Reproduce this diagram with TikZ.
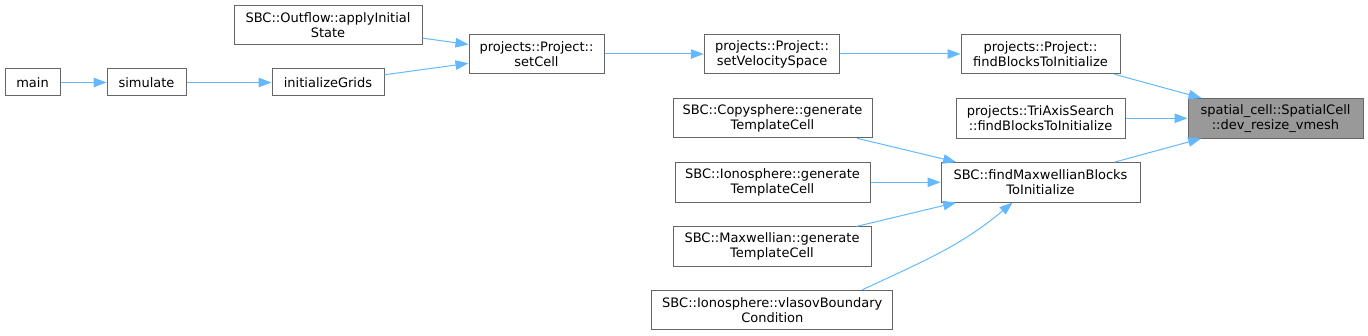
\documentclass[tikz,border=0pt]{standalone}
\usepackage{fontspec}
\setmainfont{DejaVu Sans}
\usetikzlibrary{arrows.meta}
\definecolor{edgeblue}{HTML}{63B8FF}
\definecolor{boxgray}{HTML}{666666}
\definecolor{fillgray}{HTML}{999999}
\tikzset{
  box/.style={draw=boxgray, line width=1pt, fill=white, inner sep=0pt, align=center,
    font=\fontsize{13}{15}\selectfont, text=black},
  one/.style={box, minimum height=27pt},
  two/.style={box, minimum height=39.5pt},
  edge/.style={draw=edgeblue, line width=1pt, -{Triangle[length=13pt,width=9.5pt]}},
}
\begin{document}
\begin{tikzpicture}[x=1pt,y=-1pt]
\useasboundingbox (0,0) rectangle (1368,336);
\node[one, minimum width=55pt] (main) at (32.5,82.5) {main};
\node[one, minimum width=79pt] (sim) at (146.5,82.5) {simulate};
\node[one, minimum width=112pt] (ig) at (328,82.5) {initializeGrids};
\node[two, minimum width=188pt] (of) at (328,25) {SBC::Outflow::applyInitial\\State};
\node[two, minimum width=135pt] (sc) at (536.5,54) {projects::Project::\\setCell};
\node[two, minimum width=135.5pt] (svs) at (772,54) {projects::Project::\\setVelocitySpace};
\node[two, minimum width=159pt] (fb) at (1040.5,54) {projects::Project::\\findBlocksToInitialize};
\node[two, minimum width=169pt] (ta) at (1040.5,118.3) {projects::TriAxisSearch\\::findBlocksToInitialize};
\node[two, minimum width=175pt, fill=fillgray] (sp) at (1275.5,118.3) {spatial\_cell::SpatialCell\\::dev\_resize\_vmesh};
\node[two, minimum width=199pt] (fm) at (1040.5,182.3) {SBC::findMaxwellianBlocks\\ToInitialize};
\node[two, minimum width=199pt] (cs) at (772.5,118) {SBC::Copysphere::generate\\TemplateCell};
\node[two, minimum width=195pt] (io) at (772.5,182.3) {SBC::Ionosphere::generate\\TemplateCell};
\node[two, minimum width=198pt] (mx) at (772,246.7) {SBC::Maxwellian::generate\\TemplateCell};
\node[two, minimum width=241pt] (vl) at (772.3,310) {SBC::Ionosphere::vlasovBoundary\\Condition};
\draw[edge] (main) -- (sim);
\draw[edge] (sim) -- (ig);
\draw[edge] (ig) -- (sc);
\draw[edge] (of) -- (sc);
\draw[edge] (sc) -- (svs);
\draw[edge] (svs) -- (fb);
\draw[edge] (fb) -- (sp);
\draw[edge] (ta) -- (sp);
\draw[edge] (fm) -- (sp);
\draw[edge] (cs) -- (fm);
\draw[edge] (io) -- (fm);
\draw[edge] (mx) -- (fm);
\draw[edge] ([xshift=90pt]vl.north) to[out=25,in=-140] ([xshift=-28pt]fm.south);
\end{tikzpicture}
\end{document}
